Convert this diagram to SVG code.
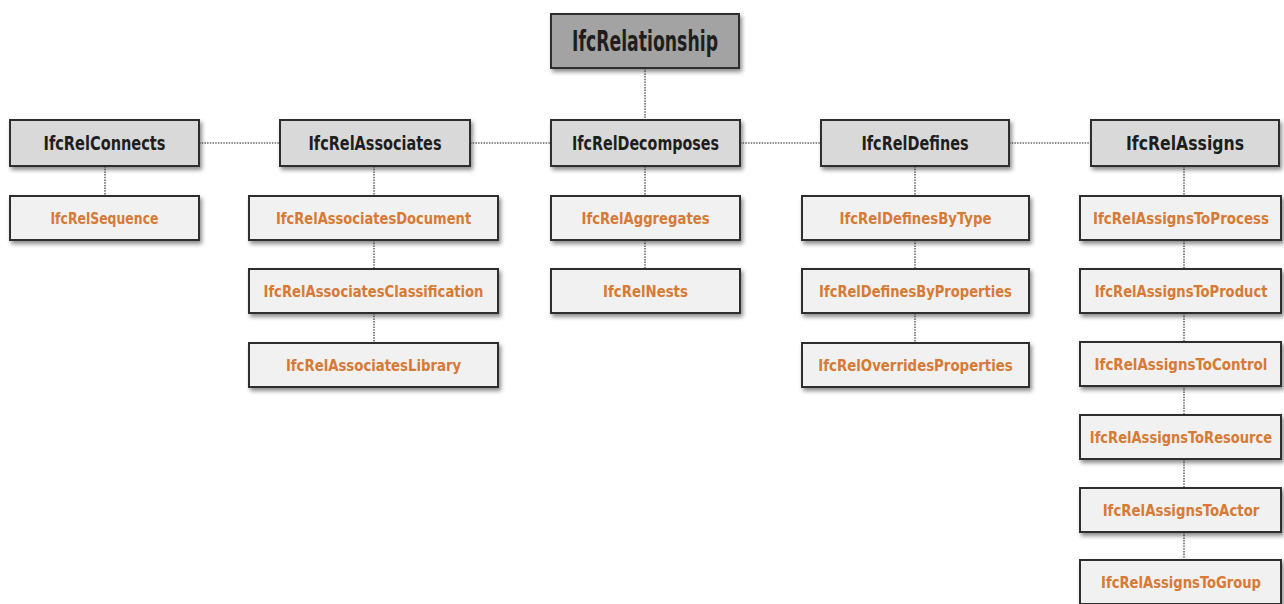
<svg xmlns="http://www.w3.org/2000/svg" width="1284" height="604" viewBox="0 0 1284 604">
  <style>
    .box { stroke: #2e2e2e; stroke-width: 2; filter: url(#shadow); }
    .root { fill: #a3a3a3; }
    .l1 { fill: #d9d9d9; }
    .l2 { fill: #f1f1f1; }
    text { font-family: "DejaVu Sans Condensed", "DejaVu Sans", sans-serif; font-weight: bold; text-anchor: middle; dominant-baseline: central; }
    .t0 { font-size: 29px; fill: #1e1e1e; }
    .t1 { font-size: 20px; fill: #1e1e1e; }
    /* subtype labels: narrowed horizontally around their own centre */
    .t2 { font-size: 16.5px; fill: #d67a35; transform-box: fill-box; transform-origin: center; transform: scaleX(0.8); }
    .link { stroke: #6a6a6a; stroke-width: 1.6; stroke-dasharray: 1.5 1.2; fill: none; }
  </style>
  <defs>
    <filter id="shadow" x="-10%" y="-20%" width="125%" height="160%">
      <feDropShadow dx="2" dy="3" stdDeviation="2" flood-color="#000" flood-opacity="0.45"/>
    </filter>
  </defs>
  <rect width="1284" height="604" fill="#ffffff"/>

  <!-- connectors -->
  <g id="connectors">
    <line class="link" x1="645" y1="68" x2="645" y2="120"/>
    <line class="link" x1="199" y1="143" x2="280" y2="143"/>
    <line class="link" x1="470" y1="143" x2="551" y2="143"/>
    <line class="link" x1="740" y1="143" x2="821" y2="143"/>
    <line class="link" x1="1009" y1="143" x2="1091" y2="143"/>
    <!-- IfcRelConnects column -->
    <line class="link" x1="105" y1="166" x2="105" y2="196"/>
    <!-- IfcRelAssociates column -->
    <line class="link" x1="374" y1="166" x2="374" y2="196"/>
    <line class="link" x1="374" y1="240" x2="374" y2="269"/>
    <line class="link" x1="374" y1="313" x2="374" y2="343"/>
    <!-- IfcRelDecomposes column -->
    <line class="link" x1="645" y1="166" x2="645" y2="196"/>
    <line class="link" x1="645" y1="240" x2="645" y2="269"/>
    <!-- IfcRelDefines column -->
    <line class="link" x1="915" y1="166" x2="915" y2="196"/>
    <line class="link" x1="915" y1="240" x2="915" y2="269"/>
    <line class="link" x1="915" y1="313" x2="915" y2="343"/>
    <!-- IfcRelAssigns column -->
    <line class="link" x1="1184" y1="166" x2="1184" y2="196"/>
    <line class="link" x1="1184" y1="240" x2="1184" y2="269"/>
    <line class="link" x1="1184" y1="313" x2="1184" y2="342"/>
    <line class="link" x1="1184" y1="386" x2="1184" y2="415"/>
    <line class="link" x1="1184" y1="459" x2="1184" y2="488"/>
    <line class="link" x1="1184" y1="532" x2="1184" y2="560"/>
  </g>

  <!-- root -->
  <g id="IfcRelationship">
    <rect class="box root" x="551" y="14" width="188" height="54"/>
    <text class="t0" x="645" y="41" textLength="146" lengthAdjust="spacingAndGlyphs">IfcRelationship</text>
  </g>

  <!-- first level -->
  <g id="IfcRelConnects">
    <rect class="box l1" x="10" y="120" width="189" height="46"/>
    <text class="t1" x="104.5" y="143" textLength="122" lengthAdjust="spacingAndGlyphs">IfcRelConnects</text>
  </g>
  <g id="IfcRelAssociates">
    <rect class="box l1" x="280" y="120" width="190" height="46"/>
    <text class="t1" x="375" y="143" textLength="133" lengthAdjust="spacingAndGlyphs">IfcRelAssociates</text>
  </g>
  <g id="IfcRelDecomposes">
    <rect class="box l1" x="551" y="120" width="189" height="46"/>
    <text class="t1" x="645.5" y="143" textLength="147" lengthAdjust="spacingAndGlyphs">IfcRelDecomposes</text>
  </g>
  <g id="IfcRelDefines">
    <rect class="box l1" x="821" y="120" width="188" height="46"/>
    <text class="t1" x="915" y="143" textLength="107" lengthAdjust="spacingAndGlyphs">IfcRelDefines</text>
  </g>
  <g id="IfcRelAssigns">
    <rect class="box l1" x="1091" y="120" width="188" height="46"/>
    <text class="t1" x="1185" y="143" textLength="118" lengthAdjust="spacingAndGlyphs">IfcRelAssigns</text>
  </g>

  <!-- IfcRelConnects subtypes -->
  <g id="IfcRelSequence">
    <rect class="box l2" x="10" y="196" width="189" height="44"/>
    <text class="t2" x="104.5" y="218" textLength="135" lengthAdjust="spacingAndGlyphs">IfcRelSequence</text>
  </g>

  <!-- IfcRelAssociates subtypes -->
  <g id="IfcRelAssociatesDocument">
    <rect class="box l2" x="249" y="196" width="249" height="44"/>
    <text class="t2" x="373.5" y="218" textLength="244" lengthAdjust="spacingAndGlyphs">IfcRelAssociatesDocument</text>
  </g>
  <g id="IfcRelAssociatesClassification">
    <rect class="box l2" x="249" y="269" width="249" height="44"/>
    <text class="t2" x="373.5" y="291" textLength="275" lengthAdjust="spacingAndGlyphs">IfcRelAssociatesClassification</text>
  </g>
  <g id="IfcRelAssociatesLibrary">
    <rect class="box l2" x="249" y="343" width="249" height="44"/>
    <text class="t2" x="373.5" y="365" textLength="219" lengthAdjust="spacingAndGlyphs">IfcRelAssociatesLibrary</text>
  </g>

  <!-- IfcRelDecomposes subtypes -->
  <g id="IfcRelAggregates">
    <rect class="box l2" x="551" y="196" width="189" height="44"/>
    <text class="t2" x="645.5" y="218" textLength="160" lengthAdjust="spacingAndGlyphs">IfcRelAggregates</text>
  </g>
  <g id="IfcRelNests">
    <rect class="box l2" x="551" y="269" width="189" height="44"/>
    <text class="t2" x="645.5" y="291" textLength="106" lengthAdjust="spacingAndGlyphs">IfcRelNests</text>
  </g>

  <!-- IfcRelDefines subtypes -->
  <g id="IfcRelDefinesByType">
    <rect class="box l2" x="802" y="196" width="227" height="44"/>
    <text class="t2" x="915.5" y="218" textLength="190" lengthAdjust="spacingAndGlyphs">IfcRelDefinesByType</text>
  </g>
  <g id="IfcRelDefinesByProperties">
    <rect class="box l2" x="802" y="269" width="227" height="44"/>
    <text class="t2" x="915.5" y="291" textLength="241" lengthAdjust="spacingAndGlyphs">IfcRelDefinesByProperties</text>
  </g>
  <g id="IfcRelOverridesProperties">
    <rect class="box l2" x="802" y="343" width="227" height="44"/>
    <text class="t2" x="915.5" y="365" textLength="243" lengthAdjust="spacingAndGlyphs">IfcRelOverridesProperties</text>
  </g>

  <!-- IfcRelAssigns subtypes -->
  <g id="IfcRelAssignsToProcess">
    <rect class="box l2" x="1080" y="196" width="201" height="44"/>
    <text class="t2" x="1181" y="218" textLength="220" lengthAdjust="spacingAndGlyphs">IfcRelAssignsToProcess</text>
  </g>
  <g id="IfcRelAssignsToProduct">
    <rect class="box l2" x="1080" y="269" width="201" height="44"/>
    <text class="t2" x="1181" y="291" textLength="216" lengthAdjust="spacingAndGlyphs">IfcRelAssignsToProduct</text>
  </g>
  <g id="IfcRelAssignsToControl">
    <rect class="box l2" x="1080" y="342" width="201" height="44"/>
    <text class="t2" x="1181" y="364" textLength="216" lengthAdjust="spacingAndGlyphs">IfcRelAssignsToControl</text>
  </g>
  <g id="IfcRelAssignsToResource">
    <rect class="box l2" x="1080" y="415" width="201" height="44"/>
    <text class="t2" x="1181" y="437" textLength="228" lengthAdjust="spacingAndGlyphs">IfcRelAssignsToResource</text>
  </g>
  <g id="IfcRelAssignsToActor">
    <rect class="box l2" x="1080" y="488" width="201" height="44"/>
    <text class="t2" x="1181" y="510" textLength="196" lengthAdjust="spacingAndGlyphs">IfcRelAssignsToActor</text>
  </g>
  <g id="IfcRelAssignsToGroup">
    <rect class="box l2" x="1080" y="560" width="201" height="44"/>
    <text class="t2" x="1181" y="582" textLength="200" lengthAdjust="spacingAndGlyphs">IfcRelAssignsToGroup</text>
  </g>
</svg>
